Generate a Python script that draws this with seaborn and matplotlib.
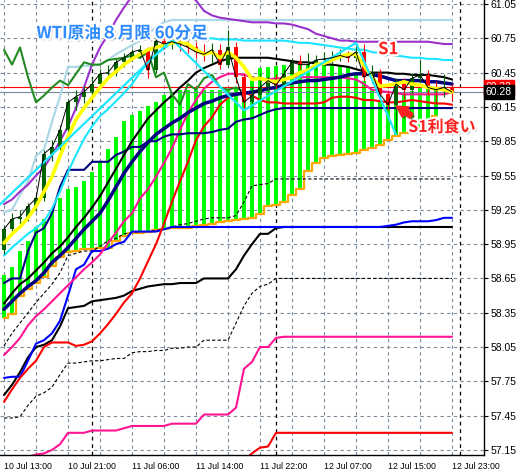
"""
WTI原油 8月限 60分足チャートの再現 (一目均衡表・移動平均・ジグザグ付き)
"""
import matplotlib
matplotlib.use('Agg')
import numpy as np
import seaborn as sns
from matplotlib import pyplot as plt
from matplotlib import patheffects as pe
from matplotlib import font_manager
from matplotlib.transforms import blended_transform_factory

# ---- データ ------------------------------------------------------------
label_bars = [0, 8, 16, 24, 32, 40, 48, 56]
bar_labels = ['10 Jul 13:00', '10 Jul 21:00', '11 Jul 06:00', '11 Jul 14:00',
              '11 Jul 22:00', '12 Jul 07:00', '12 Jul 15:00', '12 Jul 23:00']
day_breaks = [11, 34, 57]
y_ticks = [57.15, 57.45, 57.75, 58.05, 58.35, 58.65, 58.95,
           59.25, 59.55, 59.85, 60.15, 60.45, 60.75, 61.05]

first_open = 58.90
closes = [59.08, 59.17, 59.19, 59.28, 59.35, 59.74, 59.80, 59.95, 60.19, 60.24,
          60.28, 60.35, 60.44, 60.45, 60.54, 60.58, 60.63, 60.65, 60.47, 60.73,
          60.70, 60.72, 60.70, 60.67, 60.63, 60.61, 60.65, 60.52, 60.67, 60.41,
          60.19, 60.25, 60.32, 60.38, 60.34, 60.44, 60.54, 60.52, 60.52, 60.56,
          60.57, 60.58, 60.60, 60.58, 60.63, 60.41, 60.45, 60.26, 60.17, 60.35,
          60.30, 60.40, 60.43, 60.32, 60.30, 60.32, 60.28]
highs = [59.12, 59.22, 59.25, 59.31, 59.40, 59.77, 59.86, 59.99, 60.22, 60.30,
         60.33, 60.40, 60.48, 60.52, 60.57, 60.62, 60.66, 60.69, 60.67, 60.78,
         60.76, 60.76, 60.75, 60.73, 60.72, 60.70, 60.71, 60.70, 60.82, 60.72,
         60.45, 60.33, 60.45, 60.42, 60.44, 60.48, 60.58, 60.60, 60.62, 60.60,
         60.63, 60.64, 60.66, 60.64, 60.72, 60.70, 60.52, 60.48, 60.30, 60.40,
         60.40, 60.45, 60.56, 60.47, 60.38, 60.44, 60.35]
lows = [58.86, 59.05, 59.12, 59.15, 59.24, 59.33, 59.68, 59.77, 59.92, 60.12,
        60.18, 60.25, 60.32, 60.40, 60.42, 60.50, 60.55, 60.58, 60.40, 60.45,
        60.66, 60.66, 60.64, 60.62, 60.58, 60.55, 60.53, 60.48, 60.50, 60.36,
        60.12, 60.15, 60.22, 60.28, 60.30, 60.31, 60.40, 60.48, 60.47, 60.47,
        60.51, 60.53, 60.55, 60.54, 60.55, 60.38, 60.36, 60.20, 60.12, 59.91,
        60.22, 60.27, 60.36, 60.25, 60.18, 60.24, 60.20]

tenkan_yellow = [58.96, 59.04, 59.10, 59.18, 59.28, 59.41, 59.54, 59.72, 59.89, 60.04,
                 60.14, 60.23, 60.32, 60.40, 60.46, 60.52, 60.57, 60.61, 60.65, 60.67,
                 60.69, 60.71, 60.72, 60.70, 60.65, 60.61, 60.63, 60.58, 60.63, 60.58,
                 60.50, 60.39, 60.40, 60.38, 60.37, 60.39, 60.41, 60.45, 60.47, 60.52,
                 60.53, 60.56, 60.59, 60.61, 60.61, 60.51, 60.41, 60.33, 60.34, 60.35,
                 60.37, 60.35, 60.34, 60.32, 60.31, 60.30, 60.28]
ma_black = [58.43, 58.52, 58.60, 58.65, 58.72, 58.79, 58.87, 58.93, 59.01, 59.10,
            59.18, 59.27, 59.37, 59.49, 59.61, 59.73, 59.85, 59.95, 60.05, 60.12,
            60.19, 60.25, 60.32, 60.38, 60.45, 60.49, 60.52, 60.55, 60.57, 60.58,
            60.58, 60.58, 60.58, 60.58, 60.57, 60.56, 60.55, 60.54, 60.54, 60.53,
            60.52, 60.52, 60.51, 60.50, 60.48, 60.46, 60.45, 60.45, 60.45, 60.44,
            60.44, 60.43, 60.43, 60.43, 60.42, 60.41, 60.39]
ma_navy = [58.38, 58.45, 58.52, 58.58, 58.63, 58.70, 58.79, 58.85, 58.92, 59.00,
           59.08, 59.15, 59.22, 59.33, 59.45, 59.57, 59.67, 59.76, 59.84, 59.91,
           59.96, 60.01, 60.05, 60.10, 60.14, 60.18, 60.20, 60.23, 60.25, 60.26,
           60.27, 60.28, 60.29, 60.31, 60.32, 60.34, 60.36, 60.37, 60.38, 60.38,
           60.39, 60.40, 60.41, 60.43, 60.44, 60.44, 60.43, 60.42, 60.40, 60.38,
           60.38, 60.38, 60.38, 60.37, 60.37, 60.36, 60.35]
kijun_navy = [58.61, 58.65, 58.65, 58.89, 59.05, 59.09, 59.22, 59.45, 59.60, 59.60,
              59.60, 59.67, 59.67, 59.67, 59.73, 59.76, 59.80, 59.80, 59.85, 59.85,
              59.89, 59.91, 59.91, 59.92, 59.92, 59.92, 59.93, 59.95, 59.96, 60.02,
              60.04, 60.05, 60.08, 60.11, 60.13, 60.14, 60.14, 60.14, 60.14, 60.14,
              60.14, 60.14, 60.14, 60.14, 60.14, 60.14, 60.14, 60.14, 60.14, 60.14,
              60.14, 60.14, 60.14, 60.14, 60.14, 60.14, 60.14]
band_purple = [59.30, 59.34, 59.41, 59.47, 59.55, 59.62, 59.73, 59.85, 59.98, 60.14,
               60.32, 60.52, 60.67, 60.78, 60.91, 61.02, 61.12, 61.19, 61.24, 61.27,
               61.28, 61.27, 61.22, 61.14, 61.08, 60.99, 60.95, 60.93, 60.92, 60.91,
               60.90, 60.89, 60.89, 60.89, 60.88, 60.88, 60.87, 60.85, 60.83, 60.79,
               60.77, 60.75, 60.73, 60.73, 60.72, 60.72, 60.72, 60.72, 60.72, 60.72,
               60.72, 60.72, 60.72, 60.72, 60.71, 60.70, 60.70]
high_lightblue = [59.23, 59.25, 59.38, 59.50, 59.72, 59.78, 60.02, 60.24, 60.50, 60.50,
                  60.51, 60.51, 60.52, 60.56, 60.61, 60.65, 60.69, 60.73, 60.78, 60.85,
                  60.89, 60.91, 60.91, 60.91, 60.91, 60.91, 60.91, 60.91, 60.91, 60.91,
                  60.91, 60.91, 60.91, 60.91, 60.91, 60.91, 60.91, 60.91, 60.91, 60.91,
                  60.91, 60.91, 60.91, 60.91, 60.91, 60.91, 60.91, 60.91, 60.91, 60.91,
                  60.91, 60.91, 60.91, 60.91, 60.91, 60.91, 60.91]
band_cyan = [58.85, 58.92, 58.98, 59.04, 59.09, 59.15, 59.26, 59.41, 59.58, 59.73,
             59.87, 59.98, 60.07, 60.13, 60.20, 60.27, 60.35, 60.45, 60.54, 60.61,
             60.66, 60.71, 60.73, 60.74, 60.75, 60.75, 60.75, 60.74, 60.74, 60.74,
             60.73, 60.73, 60.73, 60.73, 60.73, 60.73, 60.72, 60.71, 60.71, 60.70,
             60.69, 60.68, 60.67, 60.66, 60.65, 60.65, 60.63, 60.62, 60.61, 60.60,
             60.59, 60.58, 60.58, 60.57, 60.57, 60.56, 60.56]
zigzag_bars = [-3, 21, 30, 44, 49]
zigzag_vals = [59.13, 60.74, 60.12, 60.71, 59.91]
ma_pink = [57.98, 58.05, 58.13, 58.24, 58.32, 58.38, 58.45, 58.52, 58.59, 58.66,
           58.73, 58.79, 58.86, 58.96, 59.05, 59.15, 59.22, 59.35, 59.43, 59.54,
           59.66, 59.79, 59.95, 60.10, 60.21, 60.31, 60.37, 60.41, 60.44, 60.44,
           60.43, 60.41, 60.39, 60.39, 60.40, 60.40, 60.41, 60.41, 60.41, 60.41,
           60.41, 60.41, 60.41, 60.40, 60.39, 60.35, 60.30, 60.29, 60.28, 60.27,
           60.26, 60.26, 60.26, 60.26, 60.26, 60.26, 60.28]
ma_red = [57.57, 57.68, 57.78, 57.86, 57.93, 58.05, 58.09, 58.09, 58.09, 58.06,
          58.07, 58.10, 58.17, 58.25, 58.34, 58.44, 58.52, 58.65, 58.80, 58.95,
          59.13, 59.32, 59.50, 59.67, 59.86, 59.98, 60.06, 60.17, 60.23, 60.26,
          60.28, 60.25, 60.21, 60.19, 60.19, 60.18, 60.18, 60.18, 60.18, 60.18,
          60.19, 60.23, 60.24, 60.24, 60.23, 60.21, 60.21, 60.20, 60.19, 60.19,
          60.20, 60.21, 60.20, 60.19, 60.18, 60.18, 60.17]
low_blue = [57.78, 57.79, 57.79, 57.93, 58.08, 58.11, 58.17, 58.28, 58.50, 58.73,
            58.77, 58.89, 58.89, 58.91, 58.95, 58.97, 59.06, 59.06, 59.06, 59.06,
            59.08, 59.10, 59.10, 59.10, 59.10, 59.10, 59.10, 59.10, 59.10, 59.10,
            59.10, 59.10, 59.10, 59.10, 59.10, 59.10, 59.10, 59.10, 59.10, 59.10,
            59.10, 59.10, 59.10, 59.10, 59.10, 59.10, 59.10, 59.10, 59.11, 59.12,
            59.14, 59.15, 59.15, 59.15, 59.16, 59.18, 59.18]
low_black = [57.63, 57.72, 57.83, 57.96, 58.05, 58.07, 58.11, 58.23, 58.39, 58.40,
             58.41, 58.45, 58.46, 58.47, 58.48, 58.50, 58.54, 58.56, 58.58, 58.59,
             58.60, 58.60, 58.61, 58.61, 58.61, 58.65, 58.65, 58.65, 58.65, 58.73,
             58.85, 58.95, 59.04, 59.04, 59.09, 59.10, 59.10, 59.10, 59.10, 59.10,
             59.10, 59.10, 59.10, 59.10, 59.10, 59.10, 59.10, 59.10, 59.10, 59.10,
             59.10, 59.10, 59.10, 59.10, 59.10, 59.10, 59.10]
low_dashed = [57.43, 57.43, 57.44, 57.54, 57.62, 57.65, 57.70, 57.81, 57.91, 57.91,
              57.92, 57.93, 57.93, 57.94, 57.95, 57.95, 58.00, 58.01, 58.01, 58.02,
              58.02, 58.04, 58.04, 58.05, 58.05, 58.11, 58.11, 58.11, 58.11, 58.26,
              58.41, 58.52, 58.58, 58.60, 58.65, 58.65, 58.65, 58.65, 58.65, 58.65,
              58.65, 58.65, 58.65, 58.65, 58.65, 58.65, 58.65, 58.65, 58.65, 58.65,
              58.65, 58.65, 58.65, 58.65, 58.65, 58.65, 58.65]
mid_dashed = [58.06, 58.17, 58.26, 58.35, 58.44, 58.52, 58.60, 58.70, 58.85, 58.87,
              58.89, 58.89, 58.93, 58.98, 59.00, 59.04, 59.05, 59.06, 59.06, 59.07,
              59.08, 59.10, 59.12, 59.13, 59.15, 59.17, 59.18, 59.18, 59.18, 59.20,
              59.32, 59.46, 59.47, 59.48, 59.52, 59.52, 59.52, 59.52, 59.52, 59.52,
              59.52, 59.52, 59.52, 59.52, 59.52, 59.52, 59.52, 59.52, 59.52, 59.52,
              59.52, 59.52, 59.52, 59.52, 59.52, 59.52, 59.52]
low_pink = [56.98, 57.02, 57.06, 57.09, 57.11, 57.12, 57.15, 57.20, 57.30, 57.30,
            57.30, 57.32, 57.32, 57.32, 57.32, 57.34, 57.36, 57.36, 57.36, 57.36,
            57.36, 57.38, 57.38, 57.38, 57.38, 57.46, 57.46, 57.46, 57.46, 57.52,
            57.86, 57.92, 58.05, 58.05, 58.13, 58.14, 58.14, 58.14, 58.14, 58.14,
            58.14, 58.14, 58.14, 58.14, 58.14, 58.14, 58.14, 58.14, 58.14, 58.14,
            58.14, 58.14, 58.14, 58.14, 58.14, 58.14, 58.14]
low_red_start = 26
low_red = [56.95, 56.98, 57.00, 57.02, 57.06, 57.12, 57.17, 57.18, 57.30, 57.30,
           57.30, 57.30, 57.30, 57.30, 57.30, 57.30, 57.30, 57.30, 57.30, 57.30,
           57.30, 57.30, 57.30, 57.30, 57.30, 57.30, 57.30, 57.30, 57.30, 57.30,
           57.30]
cloud_lower = [58.30, 58.34, 58.50, 58.56, 58.61, 58.66, 58.76, 58.84, 58.88, 58.89,
               58.91, 58.91, 58.92, 58.92, 58.98, 59.02, 59.05, 59.05, 59.06, 59.07,
               59.08, 59.09, 59.09, 59.09, 59.11, 59.12, 59.13, 59.14, 59.15, 59.16,
               59.17, 59.18, 59.21, 59.28, 59.29, 59.32, 59.38, 59.43, 59.59, 59.66,
               59.70, 59.72, 59.73, 59.74, 59.75, 59.77, 59.79, 59.82, 59.86, 59.90,
               59.92, 59.94, 59.97, 60.01, 60.07]
cloud_upper = [58.68, 58.75, 58.89, 58.98, 59.10, 59.17, 59.24, 59.35, 59.43, 59.45,
               59.50, 59.58, 59.67, 59.78, 59.89, 60.03, 60.08, 60.11, 60.16, 60.19,
               60.25, 60.28, 60.30, 60.30, 60.30, 60.30, 60.30, 60.30, 60.30, 60.32,
               60.35, 60.42, 60.49, 60.50, 60.51, 60.52, 60.52, 60.52, 60.52, 60.52,
               60.52, 60.52, 60.52, 60.51, 60.45, 60.38, 60.30, 60.19, 60.18, 60.22,
               60.26, 60.29, 60.32, 60.31, 60.30]
chikou_shift = 26
ask_price = 60.32
bid_price = 60.28

# ---- スタイル ----------------------------------------------------------
sns.set_style('white')
plt.rcParams['font.family'] = ['DejaVu Sans']
available = {f.name for f in font_manager.fontManager.ttflist}
if 'Liberation Sans Narrow' in available:
    x_font, x_size = 'Liberation Sans Narrow', 7.5
elif 'Liberation Sans' in available:
    x_font, x_size = 'Liberation Sans', 6.3
else:
    x_font, x_size = 'DejaVu Sans', 5.8
y_font = 'Liberation Sans' if 'Liberation Sans' in available else 'DejaVu Sans'
jp_font = ['Noto Sans CJK JP', 'DejaVu Sans']

fig = plt.figure(figsize=(5.21, 4.73), dpi=100)
ax = fig.add_axes([0, 18 / 473, 484 / 521, 455 / 473])

bars = np.arange(len(closes))
opens = np.array([first_open] + closes[:-1])
c_arr = np.array(closes)


def draw_line(xs, ys, color, lw, z, **kw):
    sns.lineplot(x=list(xs), y=list(ys), color=color, linewidth=lw, zorder=z,
                 estimator=None, sort=False, errorbar=None, ax=ax, **kw)


# 雲 (縦縞) と下限
cloud_x = np.arange(len(cloud_lower))
ax.bar(cloud_x, np.array(cloud_upper) - np.array(cloud_lower), bottom=cloud_lower,
       width=0.62, color='#00FF00', linewidth=0, zorder=1)
draw_line(cloud_x, cloud_lower, '#FFA500', 1.6, 1.2, drawstyle='steps-mid')

# 価格ライン
ax.axhline(ask_price, color='red', lw=0.8, zorder=1.3)
ax.axhline(bid_price, color='#778899', lw=0.8, zorder=1.3)

# 下側のステップライン
ax.plot(bars, low_dashed, color='black', lw=0.8, ls=(0, (3, 2)), zorder=2)
ax.plot(bars, mid_dashed, color='black', lw=0.8, ls=(0, (3, 2)), zorder=2)
draw_line(np.arange(low_red_start, low_red_start + len(low_red)), low_red, 'red', 1.5, 2)
draw_line(bars, low_pink, '#FF1493', 1.5, 2)
draw_line(bars, low_black, 'black', 1.5, 2)
draw_line(bars, low_blue, '#0000FF', 1.5, 2.05)

# 移動平均・バンド
draw_line(bars, ma_red, 'red', 1.5, 2.1)
draw_line(bars, ma_pink, '#FF1493', 1.5, 2.1)
draw_line(bars, kijun_navy, '#000080', 1.5, 2.1)
draw_line(bars, high_lightblue, '#ADD8E6', 1.6, 2.1)
draw_line(bars, band_purple, '#9932CC', 1.5, 2.1)
draw_line(bars, band_cyan, '#1AE6FF', 1.5, 2.1)
draw_line(bars, ma_navy, '#000080', 2.5, 2.2)
draw_line(bars, ma_black, 'black', 1.5, 2.25)
draw_line(np.arange(len(closes) - chikou_shift), closes[chikou_shift:], '#228B22', 1.5, 2.3)

# ローソク足
up = c_arr >= opens
colors = np.where(up, '#006400', '#FF0000')
ax.vlines(bars, lows, highs, colors=colors, lw=0.8, zorder=3)
body = np.maximum(np.abs(c_arr - opens), 0.006)
ax.bar(bars, body, bottom=np.minimum(c_arr, opens), width=0.55, color=colors,
       linewidth=0, zorder=3.1)

draw_line(bars, tenkan_yellow, '#FFFF00', 2.6, 3.3)
draw_line(zigzag_bars, zigzag_vals, '#1AE6FF', 1.6, 3.4)
ax.plot(bars, closes, color='black', lw=0.7, zorder=3.6)

# 日付区切り
for b in day_breaks:
    ax.axvline(b, color='black', lw=0.9, ls=(0, (3, 3)), zorder=0.8)

# 軸
ax.set_xlim(-0.5, 60.0)
ax.set_ylim(57.106, 61.085)
ax.set_xlabel('')
ax.set_ylabel('')
ax.set_xticks(label_bars)
ax.set_xticklabels(bar_labels, ha='left', fontsize=x_size, family=x_font)
ax.set_xticks(range(0, 57, 4), minor=True)
ax.yaxis.tick_right()
ax.set_yticks(y_ticks)
ax.set_yticklabels([f'{v:.2f}' for v in y_ticks], fontsize=7.5, family=y_font)
ax.tick_params(axis='x', which='major', length=4, width=0.8, pad=1, colors='black')
ax.tick_params(axis='x', which='minor', length=0)
ax.tick_params(axis='y', length=3, width=0.8, pad=2, colors='black')
ax.grid(True, which='both', color='#7A8A9A', lw=0.8, ls=(0, (3, 3)), zorder=0)
ax.set_axisbelow(True)
for side in ['top', 'left']:
    ax.spines[side].set_visible(False)
for side in ['right', 'bottom']:
    ax.spines[side].set_color('black')
    ax.spines[side].set_linewidth(1.0)

# 右端の価格ラベル
trans = blended_transform_factory(ax.transAxes, ax.transData)
ax.text(1.004, ask_price, '60.32', transform=trans, color='white', fontsize=7.5,
        family=y_font, va='center', ha='left', clip_on=False, zorder=6,
        bbox=dict(boxstyle='square,pad=0.2', fc='red', ec='red'))
ax.text(1.004, bid_price, '60.28', transform=trans, color='white', fontsize=7.5,
        family=y_font, va='center', ha='left', clip_on=False, zorder=7,
        bbox=dict(boxstyle='square,pad=0.2', fc='black', ec='black'))

# 注釈
glow = [pe.SimplePatchShadow(offset=(1.5, -1.5), shadow_rgbFace='#808080', alpha=0.6),
        pe.Stroke(linewidth=3, foreground='white'), pe.Normal()]
ax.text(0.252, 0.927, 'WTI原油８月限 60分足', transform=ax.transAxes, fontsize=12,
        fontweight='bold', color='#2E8BFF', family=jp_font, ha='center', va='center',
        path_effects=glow, zorder=8)
ax.text(0.802, 0.892, 'S1', transform=ax.transAxes, fontsize=12, fontweight='bold',
        color='#FF2020', family=jp_font, ha='center', va='center',
        path_effects=glow, zorder=8)
ax.text(0.913, 0.721, 'S1利食い', transform=ax.transAxes, fontsize=11.5,
        fontweight='bold', color='#FF2020', family=jp_font, ha='center', va='center',
        path_effects=glow, zorder=8)
ax.annotate('', xy=(0.814, 0.770), xytext=(0.855, 0.742), xycoords='axes fraction',
            arrowprops=dict(arrowstyle='simple,head_length=0.8,head_width=0.9,tail_width=0.4',
                            fc='#FF2020', ec='#FF2020',
                            path_effects=[pe.SimplePatchShadow(offset=(1.5, -1.5), alpha=0.5),
                                          pe.Normal()]),
            zorder=8)

fig.savefig('out.png', dpi=100)
plt.close(fig)
